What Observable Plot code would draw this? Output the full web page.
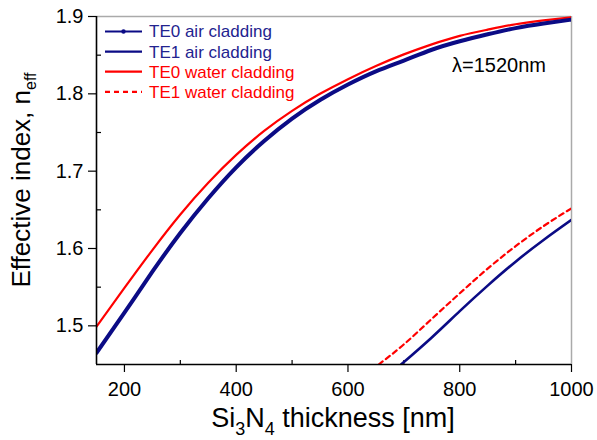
<!DOCTYPE html>
<html>
<head>
<meta charset="utf-8">
<script src="https://cdn.jsdelivr.net/npm/d3@7"></script>
<script src="https://cdn.jsdelivr.net/npm/@observablehq/plot@0.6"></script>
<style>
  html, body { margin: 0; padding: 0; background: #fff; }
  svg { font-family: "Liberation Sans", Arial, sans-serif; }
</style>
</head>
<body>
<div id="chart"></div>
<script>
// Thickness grid (nm)
const thickness = [150, 200, 250, 300, 350, 400, 450, 500, 550, 600, 650, 700, 750, 800, 850, 900, 950, 1000];
// TE0, water cladding
const te0Water = [1.499, 1.549, 1.598, 1.644, 1.685, 1.721, 1.752, 1.778, 1.800, 1.819, 1.836, 1.851, 1.864, 1.875, 1.883, 1.890, 1.895, 1.899];
// TE0, air cladding
const te0Air = [1.465, 1.517, 1.570, 1.620, 1.665, 1.705, 1.739, 1.768, 1.792, 1.812, 1.829, 1.843, 1.857, 1.868, 1.877, 1.885, 1.891, 1.896];
// TE1 curves (start near cut-off)
const te1WaterX = [655, 700, 750, 800, 850, 900, 950, 1000];
const te1Water = [1.450, 1.476, 1.509, 1.542, 1.574, 1.603, 1.629, 1.652];
const te1AirX = [695, 750, 800, 850, 900, 950, 1000];
const te1Air = [1.450, 1.485, 1.519, 1.552, 1.583, 1.611, 1.637];

const xMajor = [200, 400, 600, 800, 1000];
const xMinor = [300, 500, 700, 900];
const yMajor = [1.5, 1.6, 1.7, 1.8, 1.9];
const yMinor = [1.55, 1.65, 1.75, 1.85];
const xDomain = [150, 1000];
const yDomain = [1.45, 1.9];

const legendLabels = ["TE0 air cladding", "TE1 air cladding", "TE0 water cladding", "TE1 water cladding"];
const navy = "#0b0b85";
const red = "#ff0000";

const mk = (xs, ys) => xs.map((x, i) => ({x, y: ys[i]}));
const dTe0Water = mk(thickness, te0Water);
const dTe0Air = mk(thickness, te0Air);
const dTe1Water = mk(te1WaterX, te1Water);
const dTe1Air = mk(te1AirX, te1Air);

const W = 597, H = 440;
const plot = Plot.plot({
  width: W, height: H,
  marginLeft: 96, marginRight: 26, marginTop: 16, marginBottom: 76,
  style: {fontFamily: "'Liberation Sans', Arial, sans-serif", background: "#fff", color: "#000"},
  x: {domain: xDomain},
  y: {domain: yDomain},
  marks: [
    // frame
    Plot.ruleY([yDomain[1]], {stroke: "#aaaaaa", strokeWidth: 1.5}),
    Plot.ruleX([xDomain[1]], {stroke: "#aaaaaa", strokeWidth: 1.5}),
    // minor ticks (inward)
    Plot.ruleX(xMinor, {x: d => d, y1: yDomain[0], y2: yDomain[0], insetTop: -4, stroke: "#000", strokeWidth: 1.2}),
    Plot.ruleY(yMinor, {y: d => d, x1: xDomain[0], x2: xDomain[0], insetRight: -5, stroke: "#000", strokeWidth: 1.2}),
    // curves
    Plot.line(dTe0Water, {x: "x", y: "y", stroke: red, strokeWidth: 2.2, curve: "natural", clip: true}),
    Plot.line(dTe0Air, {x: "x", y: "y", stroke: navy, strokeWidth: 4, curve: "natural", clip: true}),
    Plot.line(dTe1Water, {x: "x", y: "y", stroke: red, strokeWidth: 2.2, strokeDasharray: "5,4", curve: "natural", clip: true}),
    Plot.line(dTe1Air, {x: "x", y: "y", stroke: navy, strokeWidth: 2.6, curve: "natural", clip: true}),
    // axes
    Plot.axisX({ticks: xMajor, tickSize: 8, tickPadding: 9, fontSize: 20, label: null, tickFormat: d => String(d), stroke: "#000", strokeWidth: 1.2}),
    Plot.axisY({ticks: yMajor, tickSize: 8, tickPadding: 5, fontSize: 20, label: null, tickFormat: d3.format(".1f"), stroke: "#000", strokeWidth: 1.2}),
    Plot.ruleX([xDomain[0]], {stroke: "#000", strokeWidth: 1.6}),
    Plot.ruleY([yDomain[0]], {stroke: "#000", strokeWidth: 1.6})
  ]
});
document.getElementById("chart").appendChild(plot);

// Titles, legend and annotation drawn into the same SVG
const svg = d3.select(plot);
const font = "'Liberation Sans', Arial, sans-serif";

// y title
const yt = svg.append("text")
  .attr("transform", "translate(30,180) rotate(-90)")
  .attr("text-anchor", "middle")
  .attr("font-family", font).attr("font-size", 26).attr("fill", "#000");
yt.append("tspan").text("Effective index, n");
yt.append("tspan").attr("font-size", 16).attr("dy", 6).text("eff");

// x title
const xt = svg.append("text")
  .attr("x", 333).attr("y", 427)
  .attr("text-anchor", "middle")
  .attr("font-family", font).attr("font-size", 27).attr("fill", "#000");
xt.append("tspan").text("Si");
xt.append("tspan").attr("font-size", 18).attr("dy", 8).text("3");
xt.append("tspan").attr("dy", -8).text("N");
xt.append("tspan").attr("font-size", 18).attr("dy", 8).text("4");
xt.append("tspan").attr("dy", -8).text(" thickness [nm]");

// annotation
svg.append("text").attr("x", 452).attr("y", 72)
  .attr("text-anchor", "start")
  .attr("font-family", font).attr("font-size", 20).attr("fill", "#000")
  .text("λ=1520nm");

// legend
const legendColors = [navy, navy, red, red];
const legendTextColors = ["#23238f", "#23238f", red, red];
const legendDash = [null, null, null, "5,4"];
const lg = svg.append("g");
legendLabels.forEach((lab, i) => {
  const y = 31.5 + i * 20.1;
  const ln = lg.append("line").attr("x1", 105).attr("x2", 142).attr("y1", y).attr("y2", y)
    .attr("stroke", legendColors[i]).attr("stroke-width", 2.2);
  if (legendDash[i]) ln.attr("stroke-dasharray", legendDash[i]);
  if (i === 0) lg.append("circle").attr("cx", 123.5).attr("cy", y).attr("r", 2.2).attr("fill", navy);
  lg.append("text").attr("x", 149).attr("y", y).attr("dy", "0.35em")
    .attr("text-anchor", "start")
    .attr("font-family", font).attr("font-size", 17).attr("fill", legendTextColors[i])
    .text(lab);
});
</script>
</body>
</html>
